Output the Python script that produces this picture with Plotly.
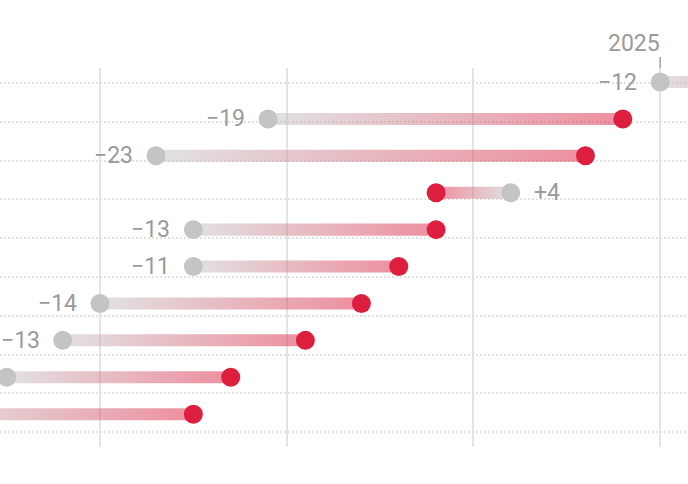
import numpy as np
import plotly.graph_objects as go

# values per row, top to bottom (chart is cropped: some ends fall outside the view)
rows = list(range(10))
val_2025 = [40, 19, 13, 32, 15, 15, 10, 8, 5, 1]
val_prev = [52, 38, 36, 28, 28, 26, 24, 21, 17, 15]
year_label = "2025"
grid_x = [10, 20, 30, 40]

GREY = "#c4c4c4"
RED = "#dc1f3f"
GREY_T = "rgba(196,196,196,0.5)"
RED_T = "rgba(220,31,63,0.5)"
TEXT = "#9a9a9a"
FONT = "Roboto"

half_h = 0.163  # half bar thickness in row units

fig = go.Figure()

# gradient bars between the two values
for y, a, b in zip(rows, val_2025, val_prev):
    lo, hi = min(a, b), max(a, b)
    if b >= a:
        scale = [[0, GREY_T], [1, RED_T]]
    else:
        scale = [[0, RED_T], [1, GREY_T]]
    fig.add_trace(go.Scatter(
        x=[lo, hi, hi, lo, lo],
        y=[y - half_h, y - half_h, y + half_h, y + half_h, y - half_h],
        mode="none", fill="toself",
        fillgradient=dict(type="horizontal", colorscale=scale),
        hoverinfo="skip", showlegend=False))

fig.add_trace(go.Scatter(x=val_prev, y=rows, mode="markers",
                         marker=dict(size=19, color=RED, line_width=0),
                         showlegend=False, name="previous"))
fig.add_trace(go.Scatter(x=val_2025, y=rows, mode="markers",
                         marker=dict(size=19, color=GREY, line_width=0),
                         showlegend=False, name=year_label))

# difference labels next to the 2025 dot
for y, a, b in zip(rows, val_2025, val_prev):
    d = a - b
    txt = ("+" + str(d)) if d > 0 else ("\u2212" + str(abs(d)))
    right = d > 0
    fig.add_annotation(x=a, y=y, text=txt, showarrow=False,
                       xanchor="left" if right else "right",
                       xshift=21 if right else -21,
                       font=dict(family=FONT, size=23, color=TEXT))

# series label + small tick above the first 2025 dot
fig.add_annotation(x=val_2025[0], y=1, yref="paper", text=year_label,
                   showarrow=False, xanchor="right", xshift=2,
                   yanchor="middle", yshift=25,
                   font=dict(family=FONT, size=23, color=TEXT))
fig.add_shape(type="line", xref="x", yref="paper", x0=val_2025[0], x1=val_2025[0],
              ysizemode="pixel", yanchor=1, y0=0, y1=11,
              line=dict(color="#a0a0a0", width=1.5))

row_grid = [0.027 + 1.0515 * j for j in range(10)]

fig.update_xaxes(range=[4.644, 41.49], tickvals=grid_x, showticklabels=False,
                 showgrid=True, gridcolor="#e4e4e4", gridwidth=2,
                 zeroline=False, showline=False)
fig.update_yaxes(range=[9.89, -0.38], tickvals=row_grid, showticklabels=False,
                 showgrid=True, gridcolor="#e2e2e2", gridwidth=2, griddash="2px,2px",
                 zeroline=False, showline=False)

fig.update_layout(width=688, height=484, margin=dict(l=0, r=0, t=68, b=37),
                  plot_bgcolor="white", paper_bgcolor="white",
                  font=dict(family=FONT))

fig.write_html("out.html", config={"displayModeBar": False},
               post_script="document.body.style.margin='0';document.body.style.overflow='hidden';")
